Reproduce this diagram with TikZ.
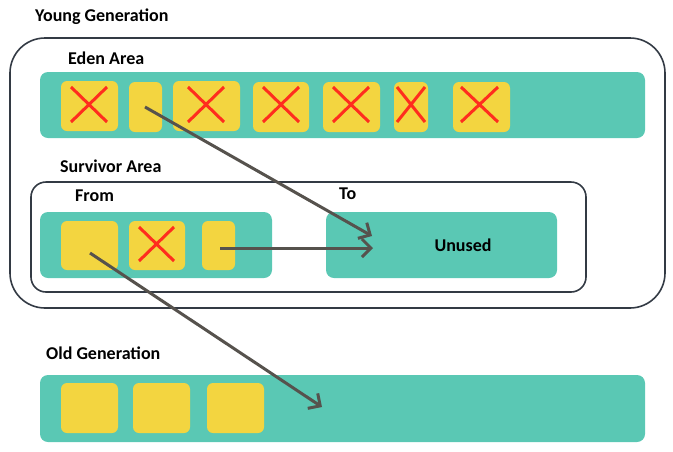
\documentclass[tikz,border=0pt]{standalone}
\usepackage{fontspec}
\setmainfont{Carlito}[BoldFont={Carlito Bold}]
\usepackage{tikz}
\usetikzlibrary{arrows.meta}

\definecolor{barcol}{HTML}{5AC8B4}
\definecolor{objcol}{HTML}{F3D540}
\definecolor{crosscol}{HTML}{FF2D1E}
\definecolor{arrcol}{HTML}{56524D}
\definecolor{framecol}{HTML}{333A44}

\tikzset{
 bar/.style={fill=barcol, rounded corners=8pt},
 obj/.style={fill=objcol, rounded corners=6pt},
 cross/.style={draw=crosscol, line width=3pt},
 frame/.style={draw=framecol, line width=1.6pt},
 move/.style={draw=arrcol, line width=3pt, -{Straight Barb[length=9pt,width=18pt,line width=3pt]}},
 lbl/.style={anchor=west, font=\fontsize{18}{21}\selectfont\bfseries, inner sep=0pt}
}

\begin{document}
\begin{tikzpicture}[x=1pt,y=-1pt]
 \useasboundingbox (0,0) rectangle (673,451);
 % young generation
 \draw[frame, rounded corners=35pt] (10,38) rectangle (665,308);
 \node[lbl] (young) at (35,17) {Young Generation};
 \node[lbl] (eden) at (68,58) {Eden Area};
 \fill[bar] (40,72) rectangle (645,138);
 \fill[obj] (61,81) rectangle (118,131);
 \fill[obj] (129,82) rectangle (162,132);
 \fill[obj] (173,81) rectangle (240,131);
 \fill[obj] (253,82) rectangle (309,132);
 \fill[obj] (323,82) rectangle (380,132);
 \fill[obj] (394,82) rectangle (428,132);
 \fill[obj] (453,82) rectangle (510,132);
 \draw[cross] (71,87) -- (107,122) (71,122) -- (107,87);
 \draw[cross] (188,87) -- (224,122) (188,122) -- (224,87);
 \draw[cross] (263,87) -- (299,122) (263,122) -- (299,87);
 \draw[cross] (333,87) -- (369,122) (333,122) -- (369,87);
 \draw[cross] (397,87) -- (425,122) (397,122) -- (425,87);
 \draw[cross] (461,87) -- (498,122) (461,122) -- (498,87);
 % survivor area
 \node[lbl] (survivor) at (60,166) {Survivor Area};
 \draw[frame, rounded corners=15pt] (31,182) rectangle (586,292);
 \node[lbl] (from) at (75,196) {From};
 \node[lbl] (to) at (339,194) {To};
 \fill[bar] (40,212) rectangle (272,278);
 \fill[bar] (326,212) rectangle (557,278);
 \node[font=\fontsize{18}{21}\selectfont\bfseries, inner sep=0pt] (unused) at (463,245) {Unused};
 \fill[obj] (61,221) rectangle (118,270);
 \fill[obj] (129,221) rectangle (185,270);
 \fill[obj] (202,221) rectangle (235,270);
 \draw[cross] (139,227) -- (174,261) (139,261) -- (174,227);
 % old generation
 \node[lbl] (old) at (46,353) {Old Generation};
 \fill[bar] (40,375) rectangle (645,442);
 \fill[obj] (61,383) rectangle (118,433);
 \fill[obj] (133,383) rectangle (190,433);
 \fill[obj] (207,383) rectangle (264,433);
 % copying
 \coordinate (e2) at (145,107);
 \coordinate (t1) at (372,236);
 \coordinate (f3) at (220,248);
 \coordinate (t2) at (373,248);
 \coordinate (f1) at (90,253);
 \coordinate (o1) at (322,407);
 \draw[move] (e2) -- (t1);
 \draw[move] (f3) -- (t2);
 \draw[move] (f1) -- (o1);
\end{tikzpicture}
\end{document}
